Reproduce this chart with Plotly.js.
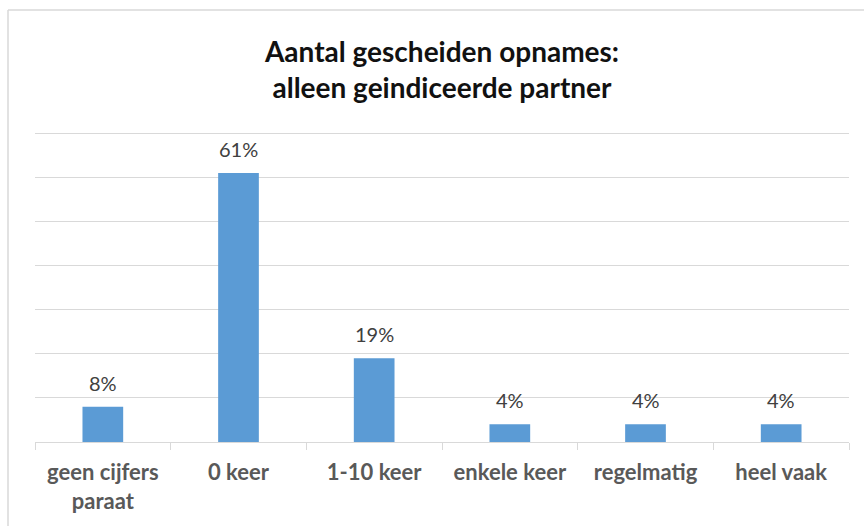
<!DOCTYPE html>
<html>
<head>
<meta charset="utf-8">
<script src="https://cdn.plot.ly/plotly-3.0.1.min.js"></script>
<style>
html,body{margin:0;padding:0;background:#fff;}
#chart{width:864px;height:526px;}
</style>
</head>
<body>
<div id="chart"></div>
<script>
const categories = ["geen cijfers<br>paraat", "0 keer", "1-10 keer", "enkele keer", "regelmatig", "heel vaak"];
const values = [0.08, 0.61, 0.19, 0.04, 0.04, 0.04];
const valueLabels = ["8%", "61%", "19%", "4%", "4%", "4%"];
const yTicks = [0, 0.1, 0.2, 0.3, 0.4, 0.5, 0.6, 0.7];

const font = "Lato, 'Open Sans', sans-serif";

const trace = {
  type: "bar",
  x: categories,
  y: values,
  marker: {color: "#5b9bd5"},
  hoverinfo: "none"
};

const L = 35, R = 15, T = 127, B = 84;
const pw = 864 - L - R, ph = 526 - T - B;

const labelAnnotations = categories.map((c, i) => ({
  x: c, y: values[i], xref: "x", yref: "y",
  text: valueLabels[i], showarrow: false,
  yanchor: "middle", yshift: 24,
  font: {family: font, size: 20, color: "#404040"}
}));

const layout = {
  width: 864, height: 526,
  margin: {l: L, r: R, t: T, b: B, pad: 0},
  paper_bgcolor: "#fff", plot_bgcolor: "#fff",
  showlegend: false,
  bargap: 0.7,
  title: {
    text: "<b>Aantal gescheiden opnames:<br>alleen geindiceerde partner</b>",
    font: {family: font, size: 28, color: "#111"},
    x: 0.5, xanchor: "center", xref: "paper",
    y: 1 - 62 / 526, yanchor: "top", yref: "container"
  },
  xaxis: {
    type: "category",
    tickson: "boundaries",
    ticks: "outside", ticklen: 7, tickcolor: "#d9d9d9",
    ticklabelstandoff: 11,
    showline: true, linecolor: "#d9d9d9", linewidth: 1,
    showgrid: false,
    tickfont: {family: font, size: 22, color: "#595959", weight: "bold"},
    fixedrange: true
  },
  yaxis: {
    range: [0, 0.714],
    tickvals: yTicks,
    showticklabels: false,
    showgrid: true, gridcolor: "#d9d9d9", gridwidth: 1,
    zeroline: false,
    fixedrange: true
  },
  annotations: labelAnnotations,
  shapes: [
    {type: "line", xref: "paper", yref: "paper",
     x0: (8 - L) / pw, x1: 1.2, y0: (ph + T - 10) / ph, y1: (ph + T - 10) / ph,
     line: {color: "#d9d9d9", width: 1.5}},
    {type: "line", xref: "paper", yref: "paper",
     x0: (8 - L) / pw, x1: (8 - L) / pw, y0: (ph + T - 10) / ph, y1: -1,
     line: {color: "#d9d9d9", width: 1.5}}
  ]
};

Plotly.newPlot("chart", [trace], layout, {staticPlot: true, displayModeBar: false});
</script>
</body>
</html>
